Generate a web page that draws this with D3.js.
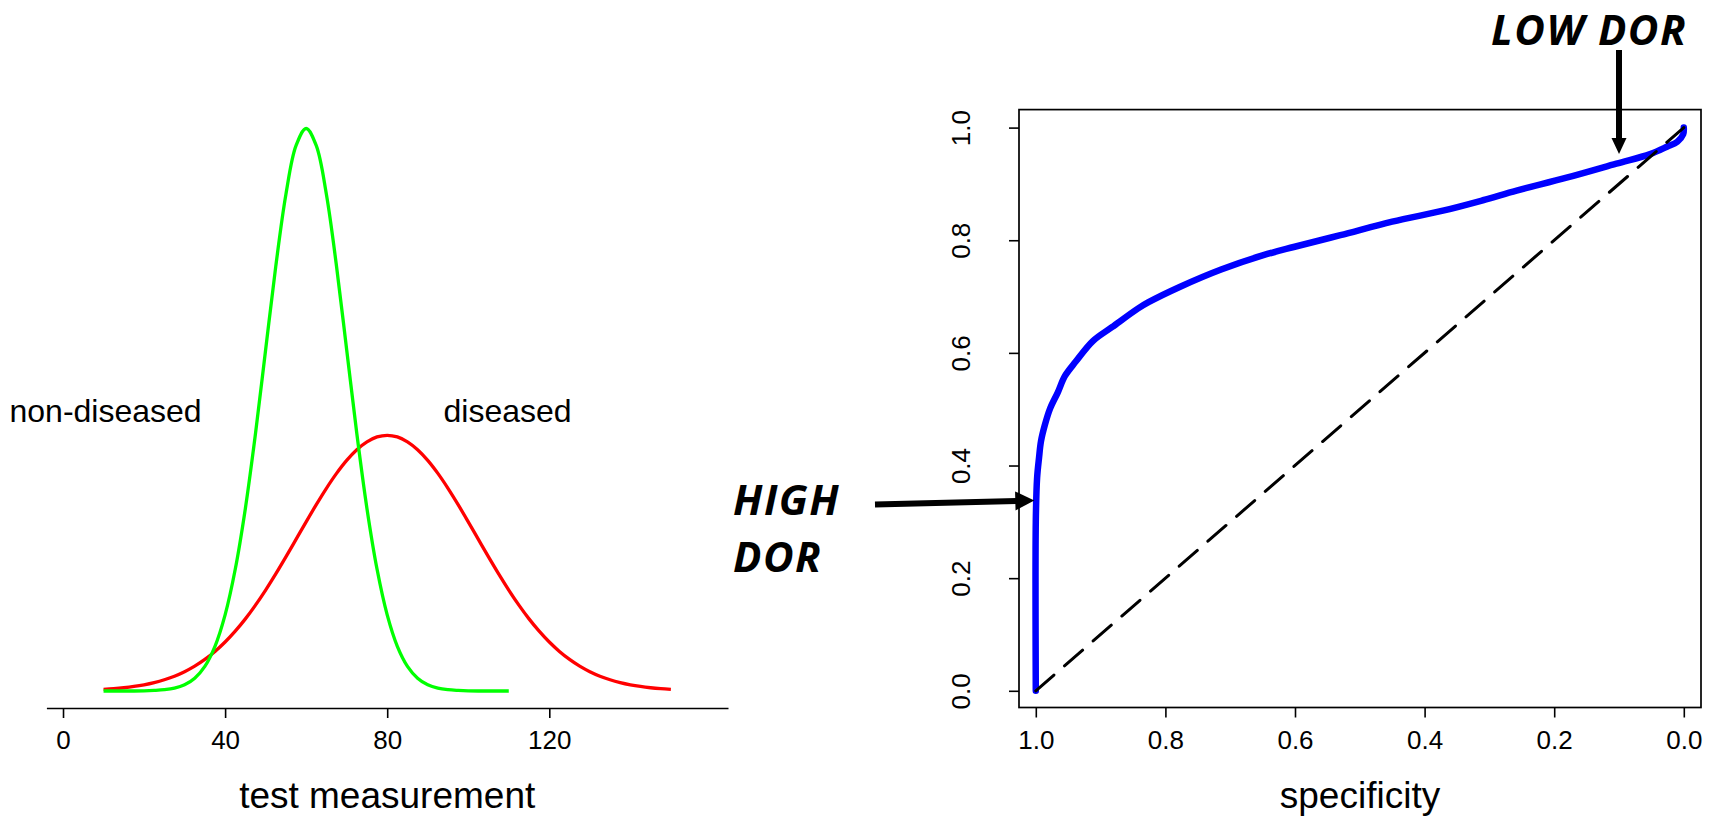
<!DOCTYPE html>
<html>
<head>
<meta charset="utf-8">
<script src="https://cdn.jsdelivr.net/npm/d3@7"></script>
<style>
  html, body { margin: 0; padding: 0; background: #fff; }
  svg { display: block; }
  .num { font-family: "Liberation Sans", Arial, sans-serif; font-size: 26px; fill: #000; }
  .title { font-family: "Liberation Sans", Arial, sans-serif; font-size: 37px; fill: #000; }
  .lab { font-family: "Liberation Sans", Arial, sans-serif; font-size: 32px; fill: #000; }
  .note { font-family: "Open Sans", sans-serif; font-weight: 700; font-style: italic; font-size: 42px; letter-spacing: 1.5px; fill: #000; }
</style>
</head>
<body>
<svg id="chart" width="1713" height="817"></svg>
<script>
// ---- test measurement densities (left panel) ----
const nonDiseasedX = [10, 12.5, 15, 17.5, 20, 22.5, 25, 27.5, 30, 32.5, 35, 37.5, 40, 42.5, 45, 47.5,
  50, 52.5, 55, 57.5, 60, 62.5, 65, 67.5, 70, 72.5, 75, 77.5, 80, 82.5, 85, 87.5, 90, 92.5, 95, 97.5,
  100, 102.5, 105, 107.5, 110];
const nonDiseasedY = [0, 0, 0, 0, 0.00001, 0.00004, 0.00009, 0.0002, 0.00044, 0.00091, 0.00175, 0.00317,
  0.0054, 0.00863, 0.01295, 0.01826, 0.0242, 0.03011, 0.03521, 0.03867, 0.03989, 0.03867, 0.03521,
  0.03011, 0.0242, 0.01826, 0.01295, 0.00863, 0.0054, 0.00317, 0.00175, 0.00091, 0.00044, 0.0002,
  0.00009, 0.00004, 0.00001, 0, 0, 0, 0];

const diseasedX = [10, 12.5, 15, 17.5, 20, 22.5, 25, 27.5, 30, 32.5, 35, 37.5, 40, 42.5, 45, 47.5,
  50, 52.5, 55, 57.5, 60, 62.5, 65, 67.5, 70, 72.5, 75, 77.5, 80, 82.5, 85, 87.5, 90, 92.5, 95, 97.5,
  100, 102.5, 105, 107.5, 110, 112.5, 115, 117.5, 120, 122.5, 125, 127.5, 130, 132.5, 135, 137.5,
  140, 142.5, 145, 147.5, 150];
const diseasedY = [0.000115, 0.000164, 0.000231, 0.000321, 0.00044, 0.000596, 0.000797, 0.001052,
  0.00137, 0.001763, 0.002239, 0.002806, 0.003472, 0.004242, 0.005115, 0.00609, 0.007157, 0.008302,
  0.009508, 0.010749, 0.011996, 0.013216, 0.014373, 0.015431, 0.016354, 0.01711, 0.017672, 0.018017,
  0.018134,
  0.018017, 0.017672, 0.01711, 0.016354, 0.015431, 0.014373, 0.013216, 0.011996, 0.010749, 0.009508,
  0.008302, 0.007157, 0.00609, 0.005115, 0.004242, 0.003472, 0.002806, 0.002239, 0.001763, 0.00137,
  0.001052, 0.000797, 0.000596, 0.00044, 0.000321, 0.000231, 0.000164, 0.000115];

const measurementTicks = [0, 40, 80, 120];

// ---- ROC curve (right panel) ----
const specificity = [1.000, 1.000, 0.998, 0.995, 0.992, 0.986, 0.978, 0.966, 0.955, 0.938, 0.912,
  0.882, 0.842, 0.826, 0.778, 0.714, 0.650, 0.602, 0.530, 0.450, 0.370, 0.310, 0.258, 0.181, 0.104,
  0.052, 0.026, 0.010, 0.001, 0.000];
const sensitivity = [0.000, 0.300, 0.378, 0.414, 0.443, 0.472, 0.501, 0.530, 0.559, 0.585, 0.621,
  0.646, 0.679, 0.690, 0.717, 0.748, 0.773, 0.788, 0.809, 0.833, 0.853, 0.871, 0.888, 0.911, 0.936,
  0.953, 0.966, 0.975, 0.988, 1.000];
const rocTicks = [0, 0.2, 0.4, 0.6, 0.8, 1.0];

// annotation anchors on the ROC curve (specificity, sensitivity)
const highDorPoint = [1.0, 0.338];
const lowDorPoint = [0.10, 0.953];

const svg = d3.select("#chart");
svg.append("rect").attr("width", 1713).attr("height", 817).attr("fill", "#fff");

// ================= left panel =================
const xL = d3.scaleLinear().domain([-4.1, 164.1]).range([46.4, 728]);
const yL = d3.scaleLinear().domain([0, 0.03989]).range([691, 128.5]);
const axisY = 708;

const dens = d3.line().x(d => xL(d[0])).y(d => yL(d[1])).curve(d3.curveCatmullRom.alpha(0.5));

svg.append("path")
  .datum(diseasedX.map((x, i) => [x, diseasedY[i]]))
  .attr("d", dens).attr("fill", "none").attr("stroke", "#ff0000")
  .attr("stroke-width", 3.3).attr("stroke-linejoin", "round");

svg.append("path")
  .datum(nonDiseasedX.map((x, i) => [x, nonDiseasedY[i]]))
  .attr("d", dens).attr("fill", "none").attr("stroke", "#00ff00")
  .attr("stroke-width", 3.3).attr("stroke-linejoin", "round");

const gxL = svg.append("g").attr("transform", `translate(0,${axisY})`)
  .call(d3.axisBottom(xL).tickValues(measurementTicks).tickSize(10).tickSizeOuter(0));
gxL.select(".domain").attr("stroke", "#000").attr("stroke-width", 1.6);
gxL.selectAll(".tick line").attr("stroke", "#000").attr("stroke-width", 1.6);
gxL.selectAll(".tick text").attr("class", "num").attr("y", 41).attr("dy", null);
gxL.attr("font-family", null).attr("font-size", null);

svg.append("text").attr("class", "title").attr("x", (xL.range()[0] + xL.range()[1]) / 2).attr("y", 808)
  .attr("text-anchor", "middle").text("test measurement");

svg.append("text").attr("class", "lab").attr("x", 9.5).attr("y", 422).text("non-diseased");
svg.append("text").attr("class", "lab").attr("x", 443.5).attr("y", 422).text("diseased");

// ================= right panel =================
const xR = d3.scaleLinear().domain([1, 0]).range([1035.8, 1683.8]);
const yR = d3.scaleLinear().domain([0, 1]).range([690.8, 127.6]);
const box = { x0: 1019, x1: 1701, y0: 109.6, y1: 707.5 };

const roc = d3.line().x(d => xR(d[0])).y(d => yR(d[1])).curve(d3.curveCatmullRom.alpha(0.5));
svg.append("path")
  .datum(specificity.map((s, i) => [s, sensitivity[i]]))
  .attr("d", roc).attr("fill", "none").attr("stroke", "#0000ff")
  .attr("stroke-width", 6.5).attr("stroke-linejoin", "round").attr("stroke-linecap", "round");

// chance diagonal
svg.append("line")
  .attr("x1", xR(1)).attr("y1", yR(0)).attr("x2", xR(0)).attr("y2", yR(1))
  .attr("stroke", "#000").attr("stroke-width", 3).attr("stroke-dasharray", "24,14")
  .attr("stroke-linecap", "round");

svg.append("rect").attr("x", box.x0).attr("y", box.y0)
  .attr("width", box.x1 - box.x0).attr("height", box.y1 - box.y0)
  .attr("fill", "none").attr("stroke", "#000").attr("stroke-width", 1.7);

const gxR = svg.append("g").attr("transform", `translate(0,${box.y1})`)
  .call(d3.axisBottom(xR).tickValues(rocTicks).tickFormat(d3.format(".1f")).tickSize(10).tickSizeOuter(0));
gxR.select(".domain").remove();
gxR.selectAll(".tick line").attr("stroke", "#000").attr("stroke-width", 1.6);
gxR.selectAll(".tick text").attr("class", "num").attr("y", 41.5).attr("dy", null);
gxR.attr("font-family", null).attr("font-size", null);

const gyR = svg.append("g").attr("transform", `translate(${box.x0},0)`)
  .call(d3.axisLeft(yR).tickValues(rocTicks).tickFormat(d3.format(".1f")).tickSize(10).tickSizeOuter(0));
gyR.select(".domain").remove();
gyR.selectAll(".tick line").attr("stroke", "#000").attr("stroke-width", 1.6);
gyR.selectAll(".tick text").attr("class", "num")
  .attr("x", null).attr("dy", null).attr("text-anchor", "middle")
  .attr("transform", "translate(-49,0) rotate(-90)");
gyR.attr("font-family", null).attr("font-size", null);

svg.append("text").attr("class", "title").attr("x", (box.x0 + box.x1) / 2).attr("y", 808)
  .attr("text-anchor", "middle").text("specificity");

// ================= annotations =================
function arrow(x1, y1, x2, y2, headLen, headWidth, shaft) {
  const a = Math.atan2(y2 - y1, x2 - x1);
  const bx = x2 - headLen * Math.cos(a), by = y2 - headLen * Math.sin(a);
  svg.append("line").attr("x1", x1).attr("y1", y1).attr("x2", bx + Math.cos(a)).attr("y2", by + Math.sin(a))
    .attr("stroke", "#000").attr("stroke-width", shaft);
  const nx = -Math.sin(a) * headWidth / 2, ny = Math.cos(a) * headWidth / 2;
  svg.append("path")
    .attr("d", `M${x2},${y2}L${bx + nx},${by + ny}L${bx - nx},${by - ny}Z`)
    .attr("fill", "#000");
}

arrow(875, 504.5, xR(highDorPoint[0]) - 1.5, yR(highDorPoint[1]), 19, 19, 6);
arrow(xR(lowDorPoint[0]), 50, xR(lowDorPoint[0]), yR(lowDorPoint[1]), 16, 15, 6);

svg.append("text").attr("class", "note").attr("x", 733).attr("y", 515).text("HIGH");
svg.append("text").attr("class", "note").attr("x", 733).attr("y", 572).text("DOR");
svg.append("text").attr("class", "note").attr("x", 1491).attr("y", 45).text("LOW DOR");
</script>
</body>
</html>
